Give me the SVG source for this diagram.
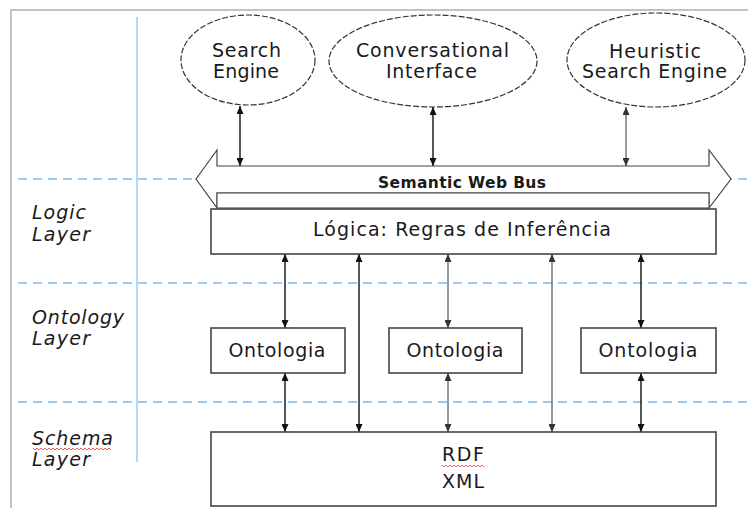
<svg xmlns="http://www.w3.org/2000/svg" width="748" height="508" viewBox="0 0 748 508">
<style>
.t{font-family:"DejaVu Sans",Verdana,sans-serif;fill:#1a1a1a;font-size:19px}
.bus{font-size:15.5px;font-weight:bold}
.el{fill:#fff;stroke:#333;stroke-width:1.2;stroke-dasharray:6 2}
.bx{fill:#fff;stroke:#444;stroke-width:1.6}
.frame{stroke:#b0b0b0;stroke-width:1.5;fill:none}
.blue{stroke:#9cc8f5;stroke-width:1.5;fill:none}
.bdash{stroke:#9cc8f5;stroke-width:2;stroke-dasharray:9 6;fill:none}
.ck{stroke:#111;stroke-width:1.4;fill:none;marker-start:url(#ah);marker-end:url(#ah)}
.cg{stroke:#555;stroke-width:1.2;fill:none;marker-start:url(#ahg);marker-end:url(#ahg)}
.lab{font-style:italic}
.sq{stroke:#e33;stroke-width:0.8;fill:none}
</style>
<defs>
<marker id="ah" viewBox="0 0 8 7" refX="8" refY="3.5" markerWidth="8" markerHeight="7" markerUnits="userSpaceOnUse" orient="auto-start-reverse"><path d="M0,0 L8,3.5 L0,7 z" fill="#111"/></marker>
<marker id="ahg" viewBox="0 0 8 7" refX="8" refY="3.5" markerWidth="8" markerHeight="7" markerUnits="userSpaceOnUse" orient="auto-start-reverse"><path d="M0,0 L8,3.5 L0,7 z" fill="#333"/></marker>
</defs>
<rect width="748" height="508" fill="#fff"/>
<g id="frame">
<path class="frame" d="M11,508 V10 H748"/>
<path class="blue" d="M137,17 V462"/>
<path class="bdash" d="M18,179 H748 M18,283 H748 M18,402 H748"/>
</g>
<g id="layer-labels" class="t lab">
<text x="32" y="219" textLength="54" lengthAdjust="spacing">Logic</text>
<text x="32" y="241" textLength="58" lengthAdjust="spacing">Layer</text>
<text x="32" y="324" textLength="92" lengthAdjust="spacing">Ontology</text>
<text x="32" y="345" textLength="58" lengthAdjust="spacing">Layer</text>
<text x="32" y="445" textLength="81" lengthAdjust="spacing">Schema</text>
<text x="32" y="466" textLength="58" lengthAdjust="spacing">Layer</text>
<path class="sq" d="M33,448 l2,2 l2,-2 l2,2 l2,-2 l2,2 l2,-2 l2,2 l2,-2 l2,2 l2,-2 l2,2 l2,-2 l2,2 l2,-2 l2,2 l2,-2 l2,2 l2,-2 l2,2 l2,-2 l2,2 l2,-2 l2,2 l2,-2 l2,2 l2,-2 l2,2 l2,-2 l2,2 l2,-2 l2,2 l2,-2 l2,2 l2,-2 l2,2 l2,-2 l2,2 l2,-2 l2,2"/>
</g>
<g id="connectors">
<line class="ck" x1="240" y1="106" x2="240" y2="166"/>
<line class="ck" x1="433" y1="107" x2="433" y2="166"/>
<line class="cg" x1="626" y1="107" x2="626" y2="166"/>
<line class="ck" x1="285" y1="254" x2="285" y2="328"/>
<line class="ck" x1="359" y1="254" x2="359" y2="432"/>
<line class="cg" x1="448" y1="254" x2="448" y2="328"/>
<line class="cg" x1="552" y1="254" x2="552" y2="432"/>
<line class="ck" x1="641" y1="254" x2="641" y2="328"/>
<line class="ck" x1="285" y1="373" x2="285" y2="432"/>
<line class="cg" x1="448" y1="373" x2="448" y2="432"/>
<line class="ck" x1="641" y1="373" x2="641" y2="432"/>
</g>
<g id="search-engine">
<ellipse class="el" cx="248" cy="60" rx="67" ry="45"/>
<text class="t" x="246.5" y="57" text-anchor="middle" textLength="69" lengthAdjust="spacing">Search</text>
<text class="t" x="246" y="78" text-anchor="middle" textLength="66" lengthAdjust="spacing">Engine</text>
</g>
<g id="conversational-interface">
<ellipse class="el" cx="433" cy="61" rx="104" ry="46"/>
<text class="t" x="432.5" y="57" text-anchor="middle" textLength="153" lengthAdjust="spacing">Conversational</text>
<text class="t" x="431.5" y="78" text-anchor="middle" textLength="91" lengthAdjust="spacing">Interface</text>
</g>
<g id="heuristic-search-engine">
<ellipse class="el" cx="656" cy="60" rx="89" ry="47"/>
<text class="t" x="655" y="58" text-anchor="middle" textLength="92" lengthAdjust="spacing">Heuristic</text>
<text class="t" x="654.5" y="78" text-anchor="middle" textLength="145" lengthAdjust="spacing">Search Engine</text>
</g>
<g id="semantic-web-bus">
<path d="M196,179 L217,150 L217,166 L709,166 L709,150 L731,179 L709,208 L709,193 L217,193 L217,208 Z" fill="#fff" stroke="#444" stroke-width="1.2"/>
<rect x="217" y="193" width="492" height="15" fill="#fff" stroke="#555" stroke-width="1.2"/>
<text class="t bus" x="462" y="188" text-anchor="middle" textLength="168" lengthAdjust="spacing">Semantic Web Bus</text>
</g>
<g id="logica">
<rect class="bx" x="211" y="209" width="505" height="45"/>
<text class="t" x="462" y="236" text-anchor="middle" textLength="298" lengthAdjust="spacing">Lógica: Regras de Inferência</text>
</g>
<g id="ontologia-1">
<rect class="bx" x="211" y="328" width="134" height="45"/>
<text class="t" x="277" y="357" text-anchor="middle" textLength="97" lengthAdjust="spacing">Ontologia</text>
</g>
<g id="ontologia-2">
<rect class="bx" x="389" y="328" width="133" height="45"/>
<text class="t" x="455" y="357" text-anchor="middle" textLength="97" lengthAdjust="spacing">Ontologia</text>
</g>
<g id="ontologia-3">
<rect class="bx" x="581" y="328" width="135" height="45"/>
<text class="t" x="648" y="357" text-anchor="middle" textLength="99" lengthAdjust="spacing">Ontologia</text>
</g>
<g id="rdf-xml">
<rect class="bx" x="211" y="432" width="505" height="74"/>
<text class="t" x="442" y="461" textLength="42" lengthAdjust="spacing">RDF</text>
<text class="t" x="442" y="488" textLength="42" lengthAdjust="spacing">XML</text>
<path class="sq" d="M442,465 l2,2 l2,-2 l2,2 l2,-2 l2,2 l2,-2 l2,2 l2,-2 l2,2 l2,-2 l2,2 l2,-2 l2,2 l2,-2 l2,2 l2,-2 l2,2 l2,-2 l2,2 l2,-2 l2,2"/>
</g>
</svg>
